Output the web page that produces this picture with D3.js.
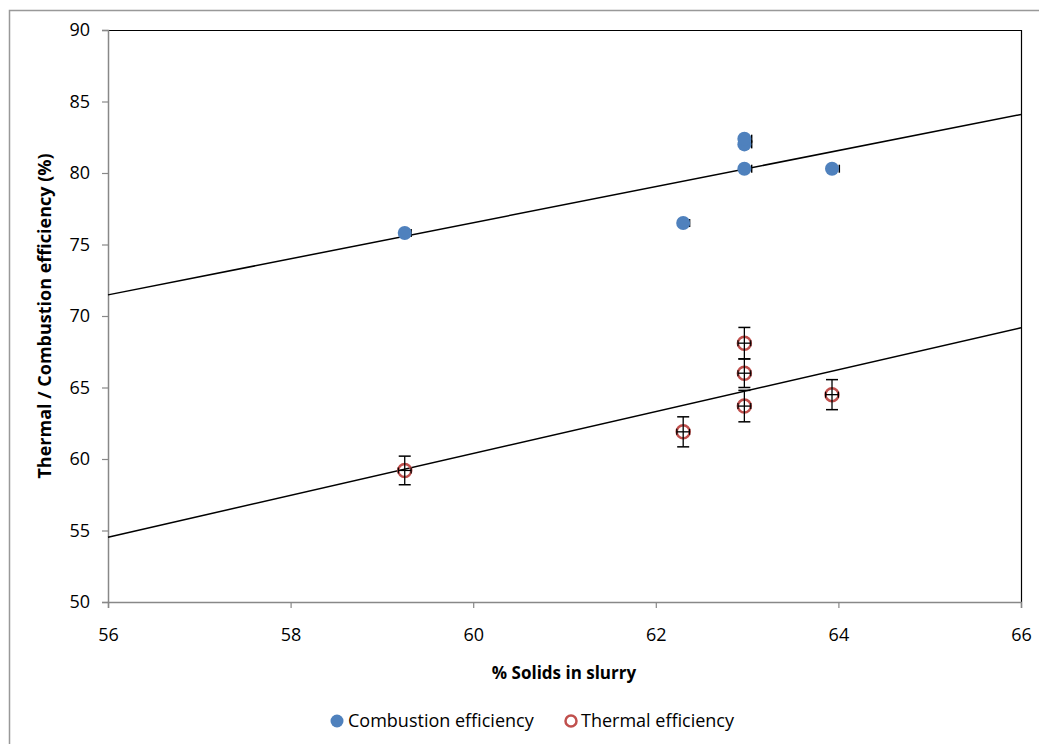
<!DOCTYPE html>
<html>
<head>
<meta charset="utf-8">
<script src="https://cdn.jsdelivr.net/npm/d3@7"></script>
<style>
  body { margin: 0; background: #fff; }
  svg text { font-family: "Open Sans", "Lato", sans-serif; fill: #000; }
</style>
</head>
<body>
<svg class="chart" width="1039" height="744"></svg>
<script>
// % solids in slurry
var solids = [59.25, 62.3, 62.97, 62.97, 62.97, 63.93];
var combustion = [75.8, 76.5, 80.3, 82.0, 82.4, 80.3];
var thermal = [59.2, 61.9, 68.1, 66.0, 63.7, 64.5];
var thermalErrY = [1.0, 1.05, 1.1, 1.0, 1.1, 1.05];
var thermalErrX = [0.07, 0.07, 0.07, 0.07, 0.07, 0.07];
var combErrX = [0.07, 0.07, 0.08, 0.08, 0.08, 0.08];
var xTicks = [56, 58, 60, 62, 64, 66];
var yTicks = [50, 55, 60, 65, 70, 75, 80, 85, 90];

var m = [30, 18, 142, 108],
  w = 1021 - m[3],
  h = 602 - m[0];

var svg = d3.select('.chart');

// outer chart frame (runs off the right / bottom edge)
svg.append('rect').attr('x', 9.5).attr('y', 10.5).attr('width', 1100).attr('height', 800)
  .attr('fill', 'none').attr('stroke', '#999').attr('stroke-width', 1.5);

var g = svg.append('g').attr('transform', 'translate(' + m[3] + ',' + m[0] + ')');

var x = d3.scaleLinear().domain([56, 66]).range([0, w]);
var y = d3.scaleLinear().domain([50, 90]).range([h, 0]);

// plot area border (top/right black)
g.append('path').attr('d', 'M0,0.5H' + (w + 0.5) + 'V' + h)
  .attr('fill', 'none').attr('stroke', '#000').attr('stroke-width', 1.2);

var yAxis = g.append('g').call(d3.axisLeft(y).tickValues(yTicks).tickSize(6).tickPadding(12));
var xAxis = g.append('g').attr('transform', 'translate(0,' + h + ')')
  .call(d3.axisBottom(x).tickValues(xTicks).tickSize(6).tickPadding(20));
[yAxis, xAxis].forEach(function(a) {
  a.select('.domain').attr('stroke', '#888').attr('stroke-width', 1.5);
  a.selectAll('.tick line').attr('stroke', '#888').attr('stroke-width', 1.2);
  a.selectAll('.tick text').style('font-size', '18px').attr('fill', '#000');
});

// least squares trend line
function fit(xs, ys) {
  var mx = d3.mean(xs), my = d3.mean(ys), sxy = 0, sxx = 0;
  for (var i = 0; i < xs.length; i++) {
    sxy += (xs[i] - mx) * (ys[i] - my);
    sxx += (xs[i] - mx) * (xs[i] - mx);
  }
  var b = sxy / sxx;
  return function(v) { return my + b * (v - mx); };
}
var line = d3.line().x(function(d) { return x(d[0]); }).y(function(d) { return y(d[1]); });
[combustion, thermal].forEach(function(ys) {
  var f = fit(solids, ys);
  g.append('path').attr('d', line([[56, f(56)], [66, f(66)]]))
    .attr('fill', 'none').attr('stroke', '#000').attr('stroke-width', 1.5);
});

// combustion x error bars (behind), then points
var comb = g.append('g');
solids.forEach(function(s, i) {
  var cy = y(combustion[i]);
  var xe = x(s + combErrX[i]);
  comb.append('line').attr('x1', x(s)).attr('x2', xe).attr('y1', cy).attr('y2', cy)
    .attr('stroke', '#000').attr('stroke-width', 1.2);
  comb.append('line').attr('x1', xe).attr('x2', xe).attr('y1', cy - 4).attr('y2', cy + 4)
    .attr('stroke', '#000').attr('stroke-width', 1.5);
});
solids.forEach(function(s, i) {
  comb.append('circle').attr('cx', x(s)).attr('cy', y(combustion[i])).attr('r', 7).attr('fill', '#4f81bd');
});

// thermal points with error bars
var th = g.append('g');
solids.forEach(function(s, i) {
  var cx = x(s), cy = y(thermal[i]);
  th.append('circle').attr('cx', cx).attr('cy', cy).attr('r', 6.5)
    .attr('fill', 'none').attr('stroke', '#c0504d').attr('stroke-width', 2.5);
  var y1 = y(thermal[i] + thermalErrY[i]), y2 = y(thermal[i] - thermalErrY[i]);
  th.append('line').attr('x1', cx).attr('x2', cx).attr('y1', y1).attr('y2', y2)
    .attr('stroke', '#000').attr('stroke-width', 1.3);
  [y1, y2].forEach(function(yy) {
    th.append('line').attr('x1', cx - 6).attr('x2', cx + 6).attr('y1', yy).attr('y2', yy)
      .attr('stroke', '#000').attr('stroke-width', 1.5);
  });
  var xa = x(s - thermalErrX[i]), xb = x(s + thermalErrX[i]);
  th.append('line').attr('x1', xa).attr('x2', xb).attr('y1', cy).attr('y2', cy)
    .attr('stroke', '#000').attr('stroke-width', 1.3);
  [xa, xb].forEach(function(xx) {
    th.append('line').attr('x1', xx).attr('x2', xx).attr('y1', cy - 3).attr('y2', cy + 3)
      .attr('stroke', '#000').attr('stroke-width', 1.2);
  });
});

// axis titles
svg.append('text').attr('transform', 'translate(51,316) rotate(-90)')
  .attr('text-anchor', 'middle').style('font-size', '18px').style('font-weight', 'bold')
  .text('Thermal / Combustion efficiency (%)');
svg.append('text').attr('x', 564).attr('y', 679).attr('text-anchor', 'middle')
  .style('font-size', '17px').style('font-weight', 'bold').text('% Solids in slurry');

// legend
var legend = svg.append('g').attr('class', 'legend');
legend.append('circle').attr('cx', 337).attr('cy', 721).attr('r', 6.5).attr('fill', '#4f81bd');
legend.append('text').attr('x', 348).attr('y', 727).style('font-size', '18px').text('Combustion efficiency');
legend.append('circle').attr('cx', 571).attr('cy', 721).attr('r', 5.5)
  .attr('fill', 'none').attr('stroke', '#c0504d').attr('stroke-width', 2.5);
legend.append('text').attr('x', 581).attr('y', 727).style('font-size', '18px').text('Thermal efficiency');
</script>
</body>
</html>
